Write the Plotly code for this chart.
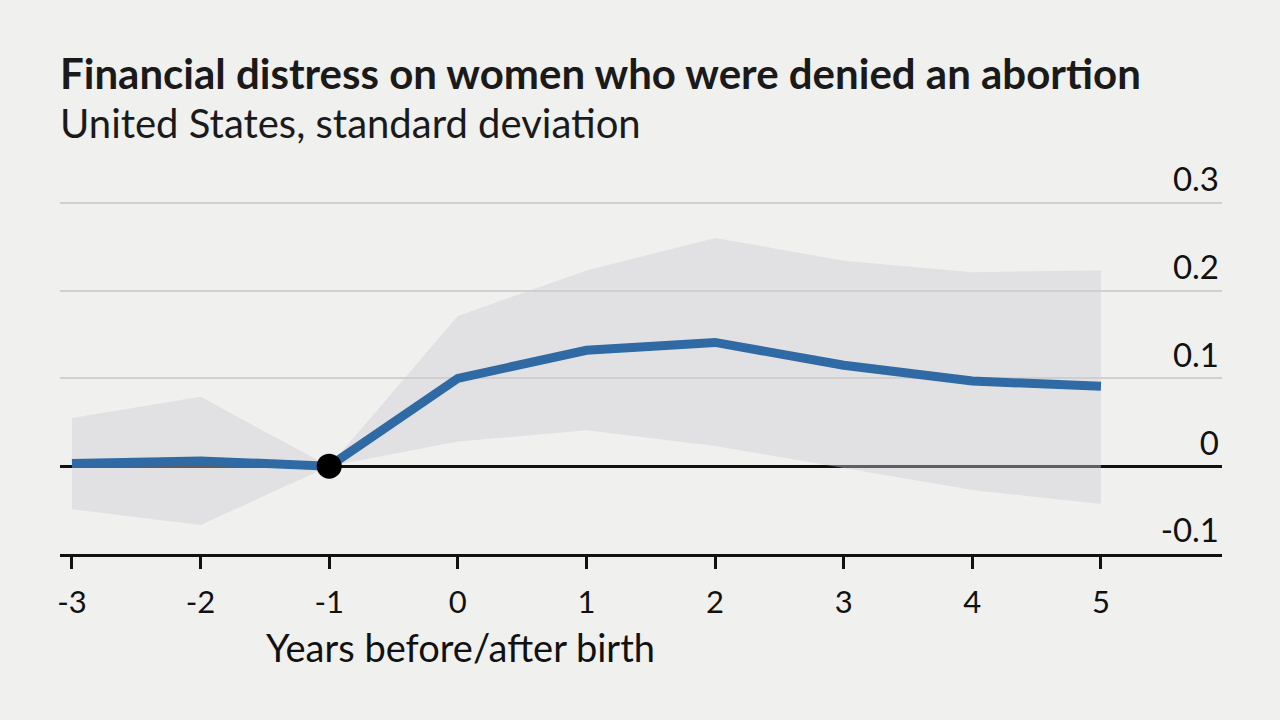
import plotly.graph_objects as go

years = [-3, -2, -1, 0, 1, 2, 3, 4, 5]
estimate = [0.003, 0.006, 0.0, 0.100, 0.132, 0.141, 0.115, 0.097, 0.091]
upper = [0.055, 0.079, 0.0, 0.171, 0.223, 0.260, 0.234, 0.221, 0.223]
lower = [-0.049, -0.067, 0.0, 0.028, 0.041, 0.023, -0.002, -0.027, -0.043]
ref_year = [-1]
ref_value = [0.0]
y_ticks = [-0.1, 0, 0.1, 0.2, 0.3]
y_tick_labels = ["-0.1", "0", "0.1", "0.2", "0.3"]

BG = "#f0f0ee"
FONT = "Lato"

fig = go.Figure()

fig.add_trace(go.Scatter(
    x=years + years[::-1], y=upper + lower[::-1],
    fill="toself", fillcolor="rgba(204,206,212,0.42)",
    line=dict(width=0), mode="lines", hoverinfo="skip", showlegend=False))

fig.add_trace(go.Scatter(
    x=years, y=estimate, mode="lines",
    line=dict(color="#2f6aa5", width=9), showlegend=False))

fig.add_trace(go.Scatter(
    x=ref_year, y=ref_value, mode="markers",
    marker=dict(color="#000000", size=25), showlegend=False))

fig.update_layout(
    width=1280, height=720,
    paper_bgcolor=BG, plot_bgcolor=BG,
    margin=dict(l=60, r=58, t=148, b=166),
    font=dict(family=FONT, color="#1a1a1a"),
    annotations=[
        dict(text="<b>Financial distress on women who were denied an abortion</b>",
             xref="paper", yref="paper", x=-0.002, y=1.0, yshift=48,
             xanchor="left", yanchor="bottom", showarrow=False,
             font=dict(size=42, family=FONT, color="#1a1a1a")),
        dict(text="United States, standard deviation",
             xref="paper", yref="paper", x=-0.002, y=1.0, yshift=-1,
             xanchor="left", yanchor="bottom", showarrow=False,
             font=dict(size=40, family=FONT, color="#1a1a1a")),
        dict(text="Years before/after birth",
             xref="x", yref="paper", x=0.02, y=0, yshift=-118,
             xanchor="center", yanchor="bottom", showarrow=False,
             font=dict(size=38, family=FONT, color="#111111")),
    ],
)

fig.update_xaxes(
    range=[-3.093, 5.941], tickvals=years, ticktext=[str(v) for v in years],
    ticks="outside", ticklen=12, tickwidth=3, tickcolor="#111111",
    ticklabelstandoff=7,
    showline=True, linecolor="#111111", linewidth=3,
    showgrid=False, zeroline=False,
    tickfont=dict(size=31, family=FONT, color="#111111"),
)

fig.update_yaxes(
    range=[-0.1, 0.3624], tickvals=y_ticks, ticktext=y_tick_labels,
    side="right", ticklabelposition="inside top", ticks="",
    showgrid=True, gridcolor="#d0d0d0", gridwidth=2,
    zeroline=True, zerolinecolor="#111111", zerolinewidth=2.5,
    showline=False,
    tickfont=dict(size=33, family=FONT, color="#111111"),
)

fig.write_html(
    "out.html",
    config={"displayModeBar": False},
    post_script="document.body.style.margin='0';document.body.style.background='#f0f0ee';",
)
